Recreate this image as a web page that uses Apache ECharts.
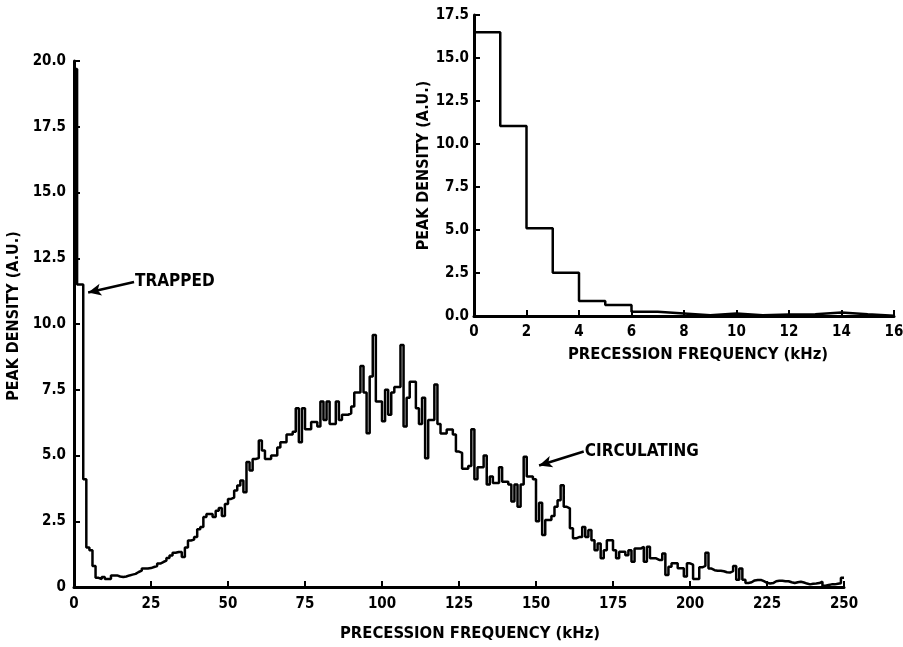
<!DOCTYPE html>
<html>
<head>
<meta charset="utf-8">
<script src="https://cdn.jsdelivr.net/npm/echarts@6/dist/echarts.min.js"></script>
<style>
html,body{margin:0;padding:0;background:#fff;}
#chart{width:903px;height:647px;}
</style>
</head>
<body>
<div id="chart"></div>
<script>
// Main histogram: 1 kHz bins from 0 to 250 kHz (value of bin i spans [i, i+1])
const mainDensity = [
  19.7, 11.5, 11.5, 4.1, 1.5, 1.4, 0.8, 0.35, 0.3, 0.38,
  0.3, 0.3, 0.44, 0.44, 0.4, 0.38, 0.4, 0.44, 0.47, 0.5,
  0.57, 0.62, 0.7, 0.7, 0.72, 0.76, 0.8, 0.89, 0.95, 1.0,
  1.1, 1.2, 1.3, 1.33, 1.33, 1.14, 1.5, 1.77, 1.8, 1.9,
  2.2, 2.28, 2.66, 2.78, 2.78, 2.66, 2.9, 3.0, 2.7, 3.16,
  3.35, 3.4, 3.67, 3.86, 4.05, 3.6, 4.75, 4.43, 4.87, 4.9,
  5.57, 5.19, 4.87, 4.87, 5.0, 5.0, 5.3, 5.5, 5.5, 5.8,
  5.8, 5.9, 6.8, 5.5, 6.8, 6.0, 6.0, 6.27, 6.27, 6.1,
  7.05, 6.35, 7.05, 6.2, 6.2, 7.05, 6.35, 6.55, 6.55, 6.6,
  6.86, 7.4, 7.4, 8.4, 7.4, 5.85, 8.0, 9.58, 7.05, 7.05,
  6.3, 7.5, 6.55, 7.4, 7.6, 7.6, 9.2, 6.1, 7.2, 7.8,
  7.8, 6.8, 6.2, 7.2, 4.9, 6.35, 6.35, 7.7, 6.2, 5.84,
  5.84, 5.99, 5.99, 5.8, 5.15, 5.1, 4.5, 4.5, 4.6, 6.0,
  4.1, 4.55, 4.55, 5.0, 3.9, 4.2, 3.95, 3.95, 4.55, 4.0,
  4.0, 3.9, 3.25, 3.9, 3.05, 3.9, 4.95, 4.2, 4.2, 4.1,
  2.5, 3.2, 1.98, 2.55, 2.55, 2.7, 3.05, 3.3, 3.87, 3.05,
  2.99, 2.23, 1.85, 1.9, 1.9, 2.28, 1.9, 2.17, 1.78, 1.4,
  1.65, 1.09, 1.4, 1.78, 1.78, 1.4, 1.09, 1.34, 1.34, 1.21,
  1.4, 0.96, 1.46, 1.46, 1.53, 0.96, 1.53, 1.09, 1.09, 1.03,
  1.03, 1.27, 0.46, 0.77, 0.9, 0.9, 0.71, 0.71, 0.4, 0.9,
  0.85, 0.3, 0.3, 0.75, 0.8, 1.3, 0.7, 0.64, 0.62, 0.62,
  0.6, 0.56, 0.55, 0.6, 0.8, 0.28, 0.7, 0.28, 0.15, 0.18,
  0.25, 0.27, 0.27, 0.22, 0.16, 0.13, 0.15, 0.22, 0.24, 0.24,
  0.22, 0.22, 0.18, 0.15, 0.18, 0.2, 0.17, 0.13, 0.1, 0.12,
  0.13, 0.15, 0.2, 0.05, 0.08, 0.1, 0.1, 0.12, 0.14, 0.35
];
// Inset histogram: 1 kHz bins from 0 to 16 kHz
const insetDensity = [16.5, 11.05, 5.1, 2.52, 0.87, 0.64, 0.25, 0.15, 0.05, 0.15, 0.05, 0.08, 0.1, 0.2, 0.1, 0.02];

const mainXTicks = [0, 250, 25];      // min, max, interval (kHz)
const mainYTicks = [0, 20, 2.5];
const insetXTicks = [0, 16, 2];
const insetYTicks = [0, 17.5, 2.5];

const xTitle = 'PRECESSION FREQUENCY (kHz)';
const yTitle = 'PEAK DENSITY (A.U.)';
const annotations = [
  {name: 'TRAPPED', from: [19.5, 11.6], to: [4.6, 11.2]},
  {name: 'CIRCULATING', from: [165.5, 5.15], to: [151, 4.62]}
];

function stepPoints(vals) {
  const pts = vals.map((v, i) => [i, v]);
  pts.push([vals.length, vals[vals.length - 1]]);
  return pts;
}

const FONT = "'DejaVu Sans Condensed', 'Liberation Sans Narrow', 'Liberation Sans', sans-serif";
const txt = {fontFamily: FONT, fontWeight: 'bold', fontSize: 17, color: '#000'};
const tickTxt = Object.assign({}, txt, {fontSize: 15});

function axisCommon() {
  return {
    axisLine: {show: true, onZero: false, lineStyle: {color: '#000', width: 3}},
    axisTick: {show: true, inside: true, length: 6, lineStyle: {color: '#000', width: 2}},
    splitLine: {show: false},
  };
}

const chart = echarts.init(document.getElementById('chart'), null, {renderer: 'canvas'});
chart.setOption({
  backgroundColor: '#fff',
  animation: false,
  grid: [
    {left: 74, top: 61, width: 770, height: 526, containLabel: false, outerBoundsMode: 'none'},
    {left: 474, top: 15, width: 420, height: 301, containLabel: false, outerBoundsMode: 'none'}
  ],
  xAxis: [
    Object.assign(axisCommon(), {
      type: 'value', gridIndex: 0, min: mainXTicks[0], max: mainXTicks[1], interval: mainXTicks[2],
      axisLabel: Object.assign({margin: 10}, tickTxt),
      name: xTitle, nameLocation: 'middle', nameGap: 38,
      nameTextStyle: Object.assign({}, txt, {fontSize: 16.5, padding: [0, 0, 0, 22]})
    }),
    Object.assign(axisCommon(), {
      type: 'value', gridIndex: 1, min: insetXTicks[0], max: insetXTicks[1], interval: insetXTicks[2],
      axisLabel: Object.assign({margin: 9}, tickTxt),
      name: xTitle, nameLocation: 'middle', nameGap: 30,
      nameTextStyle: Object.assign({}, txt, {fontSize: 16.5, padding: [0, 0, 0, 28]})
    })
  ],
  yAxis: [
    Object.assign(axisCommon(), {
      type: 'value', gridIndex: 0, min: mainYTicks[0], max: mainYTicks[1], interval: mainYTicks[2],
      axisLabel: Object.assign({margin: 8, formatter: v => v === 0 ? '0' : v.toFixed(1)}, tickTxt),
      name: yTitle, nameLocation: 'middle', nameGap: 48, nameRotate: 90,
      nameTextStyle: Object.assign({}, txt, {fontSize: 16, padding: [0, 0, 0, 16]})
    }),
    Object.assign(axisCommon(), {
      type: 'value', gridIndex: 1, min: insetYTicks[0], max: insetYTicks[1], interval: insetYTicks[2],
      axisLabel: Object.assign({margin: 5, formatter: v => v.toFixed(1)}, tickTxt),
      name: yTitle, nameLocation: 'middle', nameGap: 38, nameRotate: 90,
      nameTextStyle: Object.assign({}, txt, {fontSize: 16})
    })
  ],
  series: [
    {
      type: 'line', xAxisIndex: 0, yAxisIndex: 0, step: 'end',
      data: stepPoints(mainDensity), showSymbol: false, symbol: 'none',
      lineStyle: {color: '#000', width: 2.5}, z: 3,
      markLine: {
        silent: true, symbol: ['none', 'arrow'], symbolSize: [9, 13],
        lineStyle: {color: '#000', width: 2.5, type: 'solid'},
        label: {show: false},
        data: annotations.map(a => [{coord: a.from}, {coord: a.to}])
      },
      markPoint: {
        silent: true, symbol: 'circle', symbolSize: 0,
        label: Object.assign({show: true, position: 'right', distance: 1, formatter: p => p.name}, txt),
        data: annotations.map(a => ({name: a.name, coord: a.from}))
      }
    },
    {
      type: 'line', xAxisIndex: 1, yAxisIndex: 1, step: 'end',
      data: stepPoints(insetDensity), showSymbol: false, symbol: 'none',
      lineStyle: {color: '#000', width: 2.5}, z: 3
    }
  ]
});
</script>
</body>
</html>
